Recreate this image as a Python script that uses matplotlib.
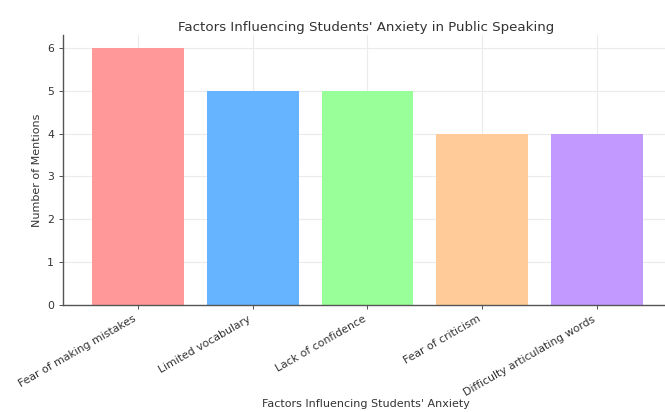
import matplotlib.pyplot as plt

factors = ['Fear of making mistakes', 'Limited vocabulary', 'Lack of confidence',
           'Fear of criticism', 'Difficulty articulating words']
mentions = [6, 5, 5, 4, 4]
colors = ['#ff9999', '#66b3ff', '#99ff99', '#ffcc99', '#c299ff']

fig = plt.figure(figsize=(6.65, 4.12), dpi=100)
ax = fig.add_axes([0.095, 0.26, 0.91, 0.655])

ax.bar(factors, mentions, color=colors, width=0.8, zorder=2)
ax.set_xlim(-0.65, 4.62)
ax.set_ylim(0, 6.3)

ax.grid(True, color='#ebebeb', linewidth=0.8, zorder=0)
for side in ['top', 'right']:
    ax.spines[side].set_visible(False)
for side in ['left', 'bottom']:
    ax.spines[side].set_color('#555555')
    ax.spines[side].set_linewidth(1.0)

ax.tick_params(labelsize=7.8, colors='#333333', length=3, width=0.6)
plt.setp(ax.get_xticklabels(), rotation=30, ha='right')

ax.set_title("Factors Influencing Students' Anxiety in Public Speaking",
             fontsize=9.6, color='#333333', pad=3)
ax.set_xlabel("Factors Influencing Students' Anxiety", fontsize=8, color='#333333',
              labelpad=1)
ax.set_ylabel('Number of Mentions', fontsize=8, color='#333333')

fig.savefig('out.png', dpi=100)
